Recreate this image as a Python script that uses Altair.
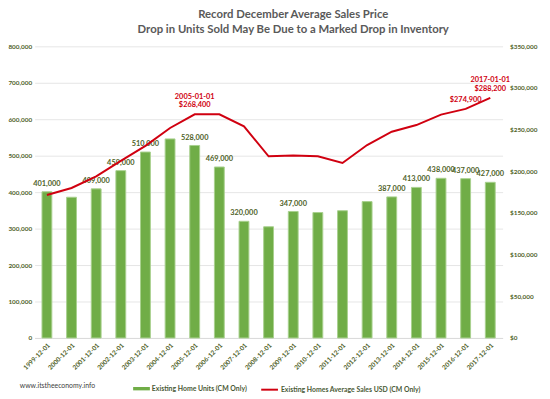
import altair as alt
import pandas as pd

dates = ["1999-12-01", "2000-12-01", "2001-12-01", "2002-12-01", "2003-12-01",
         "2004-12-01", "2005-12-01", "2006-12-01", "2007-12-01", "2008-12-01",
         "2009-12-01", "2010-12-01", "2011-12-01", "2012-12-01", "2013-12-01",
         "2014-12-01", "2015-12-01", "2016-12-01", "2017-12-01"]
units = [401000, 386000, 409000, 459000, 510000, 546000, 528000, 469000, 320000, 305000,
         347000, 344000, 349000, 374000, 387000, 413000, 438000, 437000, 427000]
unit_labels = ["401,000", "", "409,000", "459,000", "510,000", "", "528,000", "469,000", "320,000", "",
               "347,000", "", "", "", "387,000", "413,000", "438,000", "437,000", "427,000"]
prices = [171500, 180000, 194000, 212500, 230500, 252000, 268400, 268400, 254000, 218000,
          219000, 218000, 210000, 231500, 247500, 255500, 268000, 274900, 288200]
price_date_labels = ["", "", "", "", "", "", "2005-01-01", "", "", "",
                     "", "", "", "", "", "", "", "", "2017-01-01"]
price_value_labels = ["", "", "", "", "", "", "$268,400", "", "", "",
                      "", "", "", "", "", "", "", "$274,900", "$288,200"]

units_name = "Existing Home Units (CM Only)"
price_name = "Existing Homes Average Sales USD (CM Only)"
title_lines = ["Record December Average Sales Price",
               "Drop in Units Sold May Be Due to a Marked Drop in Inventory"]
watermark = "www.itstheeconomy.info"

GREEN = "#70AD47"
GREEN_EDGE = "#A9D08E"
LABEL_GREEN = "#4F6228"
RED = "#D00010"
FONT = "Lato"

df = pd.DataFrame({
    "date": dates, "units": units, "ulabel": unit_labels,
    "price": prices, "pdate": price_date_labels, "pval": price_value_labels,
    "useries": units_name, "pseries": price_name,
})

x_enc = alt.X("date:N", sort=dates, title=None,
              scale=alt.Scale(paddingInner=0.6, paddingOuter=0.3),
              axis=alt.Axis(labelAngle=315, labelFont=FONT, labelFontSize=6.5, labelFontWeight="bold",
                            labelColor=LABEL_GREEN, ticks=False, domainColor="#D9D9D9",
                            labelPadding=4, grid=False))

y_left = alt.Y("units:Q", title=None,
               scale=alt.Scale(domain=[0, 800000], nice=False),
               axis=alt.Axis(values=list(range(0, 800001, 100000)), format=",.0f",
                             labelFont=FONT, labelFontSize=6.5, labelFontWeight="bold",
                             labelColor=LABEL_GREEN, ticks=False, domain=False, grid=True,
                             gridColor="#E6E6E6", gridWidth=1, labelPadding=3, labelOverlap=False))
y_right = alt.Y("price:Q", title=None,
                scale=alt.Scale(domain=[0, 350000], nice=False),
                axis=alt.Axis(orient="right", values=list(range(0, 350001, 50000)), format="$,.0f",
                              labelFont=FONT, labelFontSize=6.5, labelFontWeight="bold",
                              labelColor=LABEL_GREEN, ticks=False, domain=False, grid=False,
                              labelPadding=7, labelOverlap=False))

base = alt.Chart(df)

bars = base.mark_bar(stroke=GREEN_EDGE, strokeWidth=1).encode(
    x=x_enc, y=y_left,
    color=alt.Color("useries:N", title=None,
                    scale=alt.Scale(domain=[units_name], range=[GREEN]),
                    legend=alt.Legend(orient="none", legendX=100, legendY=339,
                                      symbolType="M-1,-0.2L1,-0.2L1,0.2L-1,0.2Z",
                                      symbolSize=289, symbolStrokeWidth=0,
                                      labelFont=FONT, labelFontSize=7, labelFontWeight="bold",
                                      labelColor="#4A5A36", labelOffset=2, labelLimit=300)),
)
bar_text = base.mark_text(baseline="bottom", dy=-4, font=FONT, fontSize=7.5,
                          fontWeight="bold", color=LABEL_GREEN).encode(
    x=x_enc, y=y_left, text="ulabel:N")

line = base.mark_line(strokeWidth=2).encode(
    x=x_enc, y=y_right,
    stroke=alt.Stroke("pseries:N", title=None,
                      scale=alt.Scale(domain=[price_name], range=[RED]),
                      legend=alt.Legend(orient="none", legendX=229, legendY=339,
                                        symbolType="stroke", symbolSize=289,
                                        symbolStrokeWidth=2,
                                        labelFont=FONT, labelFontSize=7, labelFontWeight="bold",
                                        labelColor="#4A5A36", labelOffset=2, labelLimit=300)),
)
line_val = base.mark_text(baseline="bottom", dy=-5,
                          font=FONT, fontSize=7.5, fontWeight="bold", color=RED).encode(
    x=x_enc, y=y_right, text="pval:N")
line_date = base.mark_text(baseline="bottom", dy=-14,
                           font=FONT, fontSize=7.5, fontWeight="bold", color=RED).encode(
    x=x_enc, y=y_right, text="pdate:N")

wm = alt.Chart(pd.DataFrame({"t": [watermark]})).mark_text(
    align="left", baseline="middle", font=FONT, fontSize=7, color="#404040").encode(
    x=alt.value(-15), y=alt.value(345), text="t:N")

left = alt.layer(bars, bar_text)
right = alt.layer(line, line_val, line_date)

chart = alt.layer(left, right, wm).resolve_scale(
    y="independent", color="independent"
).properties(
    width=475, height=296,
    title=alt.TitleParams(text=title_lines, anchor="middle", dx=25, fontSize=11.5,
                          font=FONT, fontWeight="bold", color="#595959",
                          lineHeight=15, offset=8),
    autosize=alt.AutoSizeParams(type="none"),
    padding={"left": 27, "top": 36, "right": 40, "bottom": 55},
).configure_view(stroke=None)

chart.save("out.html", embed_options={"renderer": "svg", "actions": False})
